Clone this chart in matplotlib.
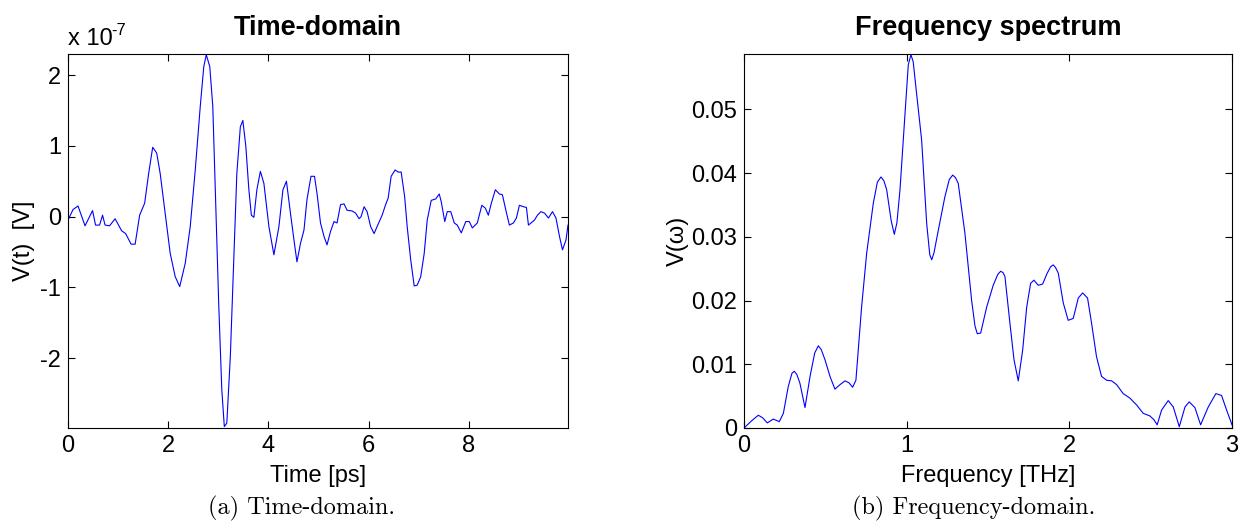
import matplotlib
matplotlib.use("Agg")
import matplotlib.pyplot as plt
from matplotlib.ticker import FuncFormatter
from matplotlib.transforms import offset_copy

plt.rcParams['font.family'] = ['Liberation Sans', 'DejaVu Sans']
plt.rcParams['axes.unicode_minus'] = False

# ---- Time-domain data (time in ps, voltage in units of 1e-7 V) ----
time_ps = [0.00, 0.10, 0.20, 0.34, 0.49, 0.55, 0.63, 0.69, 0.74, 0.83, 0.94, 1.07, 1.15, 1.26,
           1.34, 1.43, 1.53, 1.61, 1.69, 1.77, 1.84, 1.94, 2.04, 2.14, 2.23, 2.34, 2.44, 2.54,
           2.64, 2.71, 2.76, 2.83, 2.89, 2.95, 3.01, 3.07, 3.12, 3.17, 3.24, 3.31, 3.37, 3.44,
           3.49, 3.55, 3.61, 3.66, 3.71, 3.77, 3.84, 3.91, 4.01, 4.11, 4.21, 4.29, 4.36, 4.44,
           4.51, 4.57, 4.64, 4.71, 4.77, 4.85, 4.92, 4.97, 5.04, 5.11, 5.17, 5.24, 5.31, 5.37,
           5.44, 5.51, 5.57, 5.67, 5.74, 5.81, 5.85, 5.91, 5.97, 6.04, 6.11, 6.17, 6.27, 6.34,
           6.39, 6.45, 6.53, 6.59, 6.65, 6.72, 6.77, 6.84, 6.91, 6.97, 7.04, 7.11, 7.17, 7.25,
           7.34, 7.41, 7.45, 7.52, 7.57, 7.64, 7.71, 7.77, 7.85, 7.94, 8.01, 8.07, 8.17, 8.26,
           8.33, 8.39, 8.45, 8.53, 8.61, 8.67, 8.74, 8.81, 8.89, 8.95, 9.01, 9.09, 9.15, 9.19,
           9.31, 9.37, 9.44, 9.51, 9.59, 9.67, 9.74, 9.81, 9.87, 9.94, 9.98]
voltage_e7 = [-0.05, 0.10, 0.15, -0.13, 0.085, -0.12, -0.12, 0.02, -0.12, -0.13, -0.03, -0.20,
              -0.24, -0.39, -0.39, 0.02, 0.19, 0.61, 0.98, 0.90, 0.61, 0.05, -0.52, -0.85, -0.99,
              -0.66, -0.14, 0.66, 1.56, 2.12, 2.29, 2.12, 1.56, 0.14, -1.27, -2.45, -2.97, -2.92,
              -1.98, -0.57, 0.61, 1.27, 1.36, 0.99, 0.38, 0.02, -0.01, 0.38, 0.64, 0.47, -0.14,
              -0.54, -0.14, 0.38, 0.50, 0.05, -0.33, -0.64, -0.38, -0.19, 0.24, 0.57, 0.57, 0.33,
              -0.09, -0.28, -0.40, -0.21, -0.07, -0.09, 0.17, 0.18, 0.09, 0.08, 0.05, -0.03, 0.00,
              0.14, 0.07, -0.14, -0.24, -0.14, 0.02, 0.17, 0.26, 0.57, 0.66, 0.63, 0.63, 0.28,
              -0.14, -0.61, -0.98, -0.97, -0.85, -0.52, -0.05, 0.23, 0.25, 0.32, 0.21, -0.07,
              0.07, 0.07, -0.09, -0.12, -0.23, -0.07, -0.07, -0.16, -0.09, 0.16, 0.12, 0.02, 0.19,
              0.38, 0.32, 0.31, 0.09, -0.12, -0.09, -0.02, 0.16, 0.14, 0.13, -0.12, -0.05, 0.02,
              0.07, 0.05, -0.02, 0.07, -0.02, -0.28, -0.47, -0.33, -0.12]

# ---- Frequency spectrum data (THz, amplitude) ----
freq_thz = [0.000, 0.050, 0.088, 0.115, 0.143, 0.180, 0.217, 0.242, 0.272, 0.295, 0.309, 0.325,
            0.344, 0.375, 0.406, 0.435, 0.457, 0.475, 0.498, 0.530, 0.559, 0.590, 0.621, 0.645,
            0.668, 0.688, 0.723, 0.754, 0.795, 0.820, 0.842, 0.860, 0.877, 0.905, 0.924, 0.940,
            0.959, 0.990, 1.010, 1.026, 1.040, 1.061, 1.092, 1.123, 1.142, 1.154, 1.168, 1.195,
            1.235, 1.262, 1.283, 1.300, 1.317, 1.358, 1.399, 1.420, 1.434, 1.455, 1.492, 1.532,
            1.560, 1.578, 1.592, 1.604, 1.635, 1.660, 1.686, 1.713, 1.738, 1.762, 1.782, 1.809,
            1.836, 1.864, 1.885, 1.901, 1.915, 1.932, 1.963, 1.993, 2.024, 2.055, 2.082, 2.112,
            2.137, 2.167, 2.198, 2.229, 2.260, 2.291, 2.331, 2.372, 2.414, 2.454, 2.495, 2.520,
            2.540, 2.567, 2.608, 2.639, 2.676, 2.711, 2.737, 2.772, 2.807, 2.854, 2.901, 2.936,
            2.967, 3.000]
amplitude = [0.0000, 0.0012, 0.0020, 0.0016, 0.0008, 0.0014, 0.0010, 0.0023, 0.0065, 0.0086,
             0.0089, 0.0084, 0.0070, 0.0032, 0.0081, 0.0118, 0.0129, 0.0123, 0.0107, 0.0080,
             0.0061, 0.0068, 0.0074, 0.0071, 0.0064, 0.0075, 0.0190, 0.0274, 0.0353, 0.0386,
             0.0394, 0.0388, 0.0374, 0.0325, 0.0304, 0.0322, 0.0374, 0.0494, 0.0570, 0.0586,
             0.0575, 0.0525, 0.0452, 0.0321, 0.0272, 0.0264, 0.0275, 0.0311, 0.0363, 0.0390,
             0.0397, 0.0393, 0.0384, 0.0306, 0.0201, 0.0160, 0.0148, 0.0149, 0.0190, 0.0224,
             0.0241, 0.0246, 0.0244, 0.0238, 0.0164, 0.0107, 0.0074, 0.0122, 0.0190, 0.0227,
             0.0232, 0.0224, 0.0226, 0.0243, 0.0253, 0.0256, 0.0252, 0.0243, 0.0196, 0.0169,
             0.0172, 0.0204, 0.0212, 0.0204, 0.0164, 0.0112, 0.0081, 0.0075, 0.0074, 0.0068,
             0.0054, 0.0047, 0.0036, 0.0023, 0.0019, 0.0013, 0.0005, 0.0028, 0.0043, 0.0033,
             0.0002, 0.0033, 0.0041, 0.0032, 0.0005, 0.0033, 0.0054, 0.0051, 0.0028, 0.0005]

time_xticks = [0, 2, 4, 6, 8]
time_yticks = [-2, -1, 0, 1, 2]
freq_xticks = [0, 1, 2, 3]
freq_yticks = [0, 0.01, 0.02, 0.03, 0.04, 0.05]

V_SCALE = 1e-7
W, H = 1243, 529
fig = plt.figure(figsize=(W / 100, H / 100), dpi=100)

ax1 = fig.add_axes([68 / W, 1 - 428 / H, 500 / W, 374 / H])
ax2 = fig.add_axes([744 / W, 1 - 428 / H, 488 / W, 374 / H])

ax1.plot(time_ps, [v * V_SCALE for v in voltage_e7], color='#0000ff', lw=0.8)
ax1.set_xlim(0, 9.98)
ax1.set_ylim(-2.99 * V_SCALE, 2.30 * V_SCALE)
ax1.set_xticks(time_xticks)
ax1.set_yticks([t * V_SCALE for t in time_yticks])
ax1.yaxis.set_major_formatter(FuncFormatter(lambda v, p: '%g' % round(v / V_SCALE, 6)))
ax1.set_title('Time-domain', fontsize=19.5, fontweight='bold', pad=14)
ax1.set_xlabel('Time [ps]', fontsize=17, labelpad=6)
ax1.set_ylabel('V(t)  [V]', fontsize=17, labelpad=4)
# MATLAB-style exponent label "x 10^-7"
ax1.text(0.0, 1.0, 'x 10', transform=offset_copy(ax1.transAxes, fig=fig, y=4, units='dots'),
         fontsize=17, ha='left', va='bottom')
ax1.text(0.0, 1.0, '-7', transform=offset_copy(ax1.transAxes, fig=fig, x=43, y=16, units='dots'),
         fontsize=12, ha='left', va='bottom')

ax2.plot(freq_thz, amplitude, color='#0000ff', lw=0.8)
ax2.set_xlim(0, 3)
ax2.set_ylim(0, 0.0587)
ax2.set_xticks(freq_xticks)
ax2.set_yticks(freq_yticks)
ax2.yaxis.set_major_formatter(FuncFormatter(lambda v, p: '%g' % round(v, 6)))
ax2.set_title('Frequency spectrum', fontsize=19.5, fontweight='bold', pad=14)
ax2.set_xlabel('Frequency [THz]', fontsize=17, labelpad=6)
ax2.set_ylabel('V(\u03c9)', fontsize=17, labelpad=2)

for ax in (ax1, ax2):
    ax.tick_params(direction='in', top=True, right=True, length=5, width=0.8,
                   labelsize=17, pad=5, colors='black')
    for s in ax.spines.values():
        s.set_linewidth(0.8)
        s.set_color('black')

fig.text(302 / W, 1 - 508 / H, '(a) Time-domain.', family='cmr10', fontsize=17.5,
         ha='center', va='center')
fig.text(974 / W, 1 - 508 / H, '(b) Frequency-domain.', family='cmr10', fontsize=17.5,
         ha='center', va='center')

fig.savefig('out.png', dpi=100, facecolor='white')
